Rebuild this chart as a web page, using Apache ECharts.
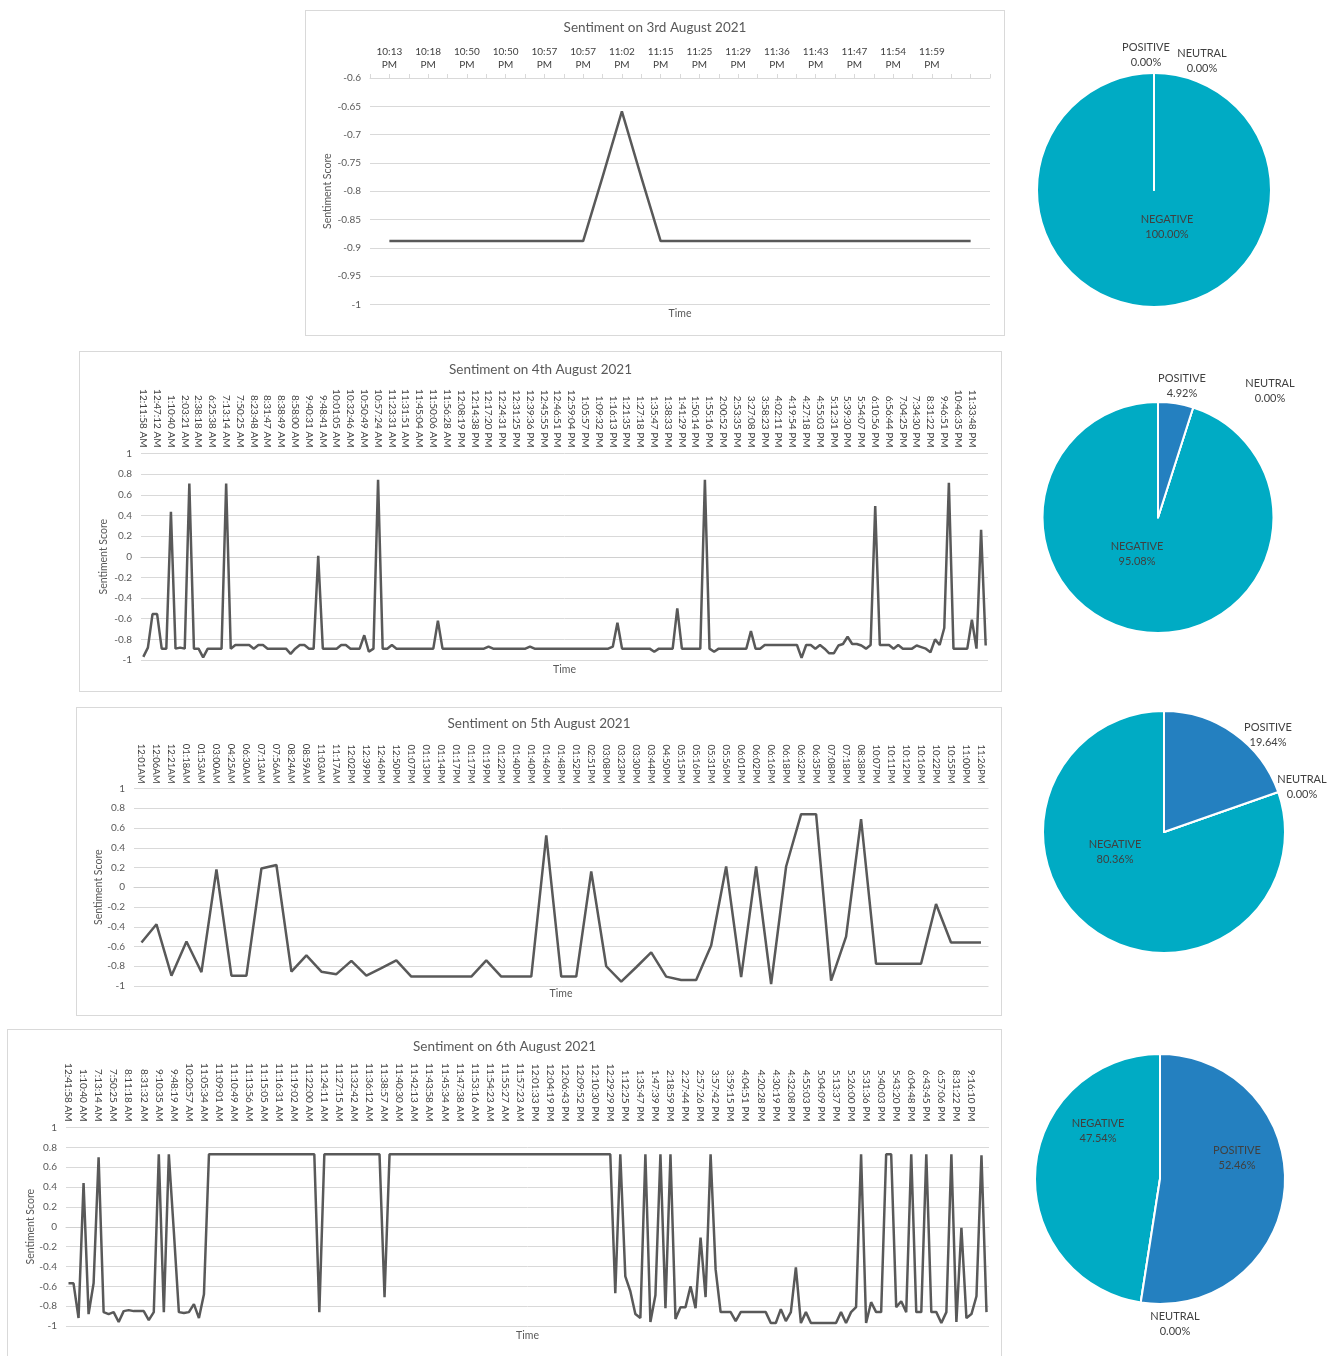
<!DOCTYPE html>
<html>
<head>
<meta charset="utf-8">
<title>Sentiment, 3rd to 6th August 2021</title>
<script src="https://cdn.jsdelivr.net/npm/echarts@6/dist/echarts.min.js"></script>
<style>
  html, body { margin: 0; padding: 0; background: #fff; width: 1339px; height: 1356px; overflow: hidden; }
  .panel { position: absolute; box-sizing: border-box; border: 1px solid #d9d9d9; background: #fff; }
  .pies { position: absolute; }
</style>
</head>
<body>
<div id="day3" class="panel" style="left:305px;top:10px;width:700px;height:326px"></div>
<div id="day4" class="panel" style="left:79px;top:351px;width:923px;height:341px"></div>
<div id="day5" class="panel" style="left:76px;top:707px;width:926px;height:309px"></div>
<div id="day6" class="panel" style="left:7px;top:1029px;width:995px;height:340px"></div>
<div id="shares" class="pies" style="left:1005px;top:0;width:334px;height:1356px"></div>
<script>
// ---- 3rd August ----
const day3Labels = ['10:13 PM', '10:18 PM', '10:50 PM', '10:50 PM', '10:57 PM', '10:57 PM', '11:02 PM', '11:15 PM',
  '11:25 PM', '11:29 PM', '11:36 PM', '11:43 PM', '11:47 PM', '11:54 PM', '11:59 PM'];
const day3Scores = [-0.888, -0.888, -0.888, -0.888, -0.888, -0.888, -0.888, -0.888, -0.888, -0.888, -0.888,
  -0.775, -0.659, -0.775,
  -0.888, -0.888, -0.888, -0.888, -0.888, -0.888, -0.888, -0.888, -0.888, -0.888, -0.888, -0.888, -0.888, -0.888,
  -0.888, -0.888, -0.888];

// ---- 4th August ----
const day4Labels = ['12:11:58 AM', '12:47:12 AM', '1:10:40 AM', '2:03:21 AM', '2:38:18 AM', '6:25:38 AM', '7:13:14 AM',
  '7:50:25 AM', '8:23:48 AM', '8:31:47 AM', '8:38:49 AM', '8:58:00 AM', '9:40:31 AM', '9:48:41 AM', '10:01:05 AM',
  '10:32:46 AM', '10:50:49 AM', '10:57:24 AM', '11:23:31 AM', '11:31:51 AM', '11:45:04 AM', '11:50:06 AM',
  '11:56:28 AM', '12:08:19 PM', '12:14:38 PM', '12:17:20 PM', '12:24:31 PM', '12:31:25 PM', '12:39:36 PM',
  '12:45:55 PM', '12:46:51 PM', '12:59:04 PM', '1:05:57 PM', '1:09:32 PM', '1:16:13 PM', '1:21:35 PM', '1:27:18 PM',
  '1:35:47 PM', '1:38:33 PM', '1:41:29 PM', '1:50:14 PM', '1:55:16 PM', '2:00:52 PM', '2:53:35 PM', '3:27:08 PM',
  '3:58:23 PM', '4:02:11 PM', '4:19:54 PM', '4:27:18 PM', '4:55:03 PM', '5:12:31 PM', '5:39:30 PM', '5:54:07 PM',
  '6:10:56 PM', '6:56:44 PM', '7:04:25 PM', '7:34:30 PM', '8:31:22 PM', '9:46:51 PM', '10:46:35 PM', '11:33:48 PM'];
const day4Scores = [
  -0.97, -0.88, -0.555, -0.555, -0.89, -0.89, 0.435, -0.89, -0.88, -0.89,
  0.71, -0.89, -0.89, -0.975, -0.89, -0.89, -0.89, -0.89, 0.71, -0.89,
  -0.855, -0.855, -0.855, -0.855, -0.89, -0.855, -0.855, -0.89, -0.89, -0.89,
  -0.89, -0.89, -0.94, -0.89, -0.855, -0.855, -0.89, -0.89, 0.01, -0.89,
  -0.89, -0.89, -0.89, -0.855, -0.855, -0.89, -0.89, -0.89, -0.76, -0.92,
  -0.89, 0.745, -0.89, -0.89, -0.855, -0.89, -0.89, -0.89, -0.89, -0.89,
  -0.89, -0.89, -0.89, -0.89, -0.62, -0.89, -0.89, -0.89, -0.89, -0.89,
  -0.89, -0.89, -0.89, -0.89, -0.89, -0.87, -0.89, -0.89, -0.89, -0.89,
  -0.89, -0.89, -0.89, -0.89, -0.87, -0.89, -0.89, -0.89, -0.89, -0.89,
  -0.89, -0.89, -0.89, -0.89, -0.89, -0.89, -0.89, -0.89, -0.89, -0.89,
  -0.89, -0.89, -0.87, -0.64, -0.89, -0.89, -0.89, -0.89, -0.89, -0.89,
  -0.89, -0.92, -0.89, -0.89, -0.89, -0.89, -0.5, -0.89, -0.89, -0.89,
  -0.89, -0.89, 0.745, -0.89, -0.92, -0.89, -0.89, -0.89, -0.89, -0.89,
  -0.89, -0.89, -0.72, -0.89, -0.89, -0.855, -0.855, -0.855, -0.855, -0.855,
  -0.855, -0.855, -0.855, -0.98, -0.855, -0.855, -0.89, -0.855, -0.89, -0.935,
  -0.935, -0.86, -0.845, -0.775, -0.845, -0.845, -0.86, -0.89, -0.855, 0.49,
  -0.855, -0.855, -0.855, -0.89, -0.855, -0.89, -0.89, -0.89, -0.86, -0.875,
  -0.89, -0.925, -0.8, -0.855, -0.69, 0.716, -0.89, -0.89, -0.89, -0.89,
  -0.61, -0.89, 0.26, -0.86];

// ---- 5th August ----
const day5Labels = ['12:01AM', '12:06AM', '12:21AM', '01:18AM', '01:53AM', '03:00AM', '04:25AM', '06:30AM', '07:13AM',
  '07:56AM', '08:24AM', '08:59AM', '11:03AM', '11:17AM', '12:02PM', '12:39PM', '12:46PM', '12:50PM', '01:07PM',
  '01:13PM', '01:14PM', '01:17PM', '01:17PM', '01:19PM', '01:22PM', '01:40PM', '01:40PM', '01:46PM', '01:48PM',
  '01:52PM', '02:51PM', '03:08PM', '03:23PM', '03:30PM', '03:44PM', '04:50PM', '05:15PM', '05:16PM', '05:31PM',
  '05:56PM', '06:01PM', '06:02PM', '06:16PM', '06:18PM', '06:32PM', '06:35PM', '07:08PM', '07:18PM', '08:38PM',
  '10:07PM', '10:11PM', '10:12PM', '10:16PM', '10:22PM', '10:55PM', '11:00PM', '11:26PM'];
const day5Scores = [
  -0.56, -0.375, -0.895, -0.55, -0.86, 0.18, -0.895, -0.895, 0.19, 0.225,
  -0.855, -0.69, -0.855, -0.88, -0.745, -0.895, -0.82, -0.74, -0.905, -0.905,
  -0.905, -0.905, -0.905, -0.74, -0.905, -0.905, -0.905, 0.525, -0.905, -0.905,
  0.16, -0.8, -0.955, -0.81, -0.66, -0.905, -0.94, -0.94, -0.59, 0.21,
  -0.91, 0.21, -0.98, 0.21, 0.74, 0.74, -0.945, -0.5, 0.69, -0.775,
  -0.775, -0.775, -0.775, -0.17, -0.56, -0.56, -0.56];

// ---- 6th August ----
const day6Labels = ['12:41:58 AM', '1:10:40 AM', '7:13:14 AM', '7:50:25 AM', '8:11:18 AM', '8:31:32 AM', '9:10:35 AM',
  '9:48:19 AM', '10:20:57 AM', '11:05:34 AM', '11:09:01 AM', '11:10:49 AM', '11:13:56 AM', '11:15:05 AM',
  '11:16:31 AM', '11:19:02 AM', '11:22:00 AM', '11:24:11 AM', '11:27:15 AM', '11:32:42 AM', '11:36:12 AM',
  '11:38:57 AM', '11:40:30 AM', '11:42:13 AM', '11:43:58 AM', '11:45:34 AM', '11:47:38 AM', '11:53:16 AM',
  '11:54:23 AM', '11:55:27 AM', '11:57:23 AM', '12:01:33 PM', '12:04:19 PM', '12:06:43 PM', '12:09:52 PM',
  '12:10:30 PM', '12:29:29 PM', '1:12:25 PM', '1:35:47 PM', '1:47:39 PM', '2:18:59 PM', '2:27:44 PM', '2:57:26 PM',
  '3:57:42 PM', '3:59:15 PM', '4:04:51 PM', '4:20:28 PM', '4:30:19 PM', '4:32:08 PM', '4:55:03 PM', '5:04:09 PM',
  '5:13:37 PM', '5:26:00 PM', '5:31:36 PM', '5:40:03 PM', '5:43:20 PM', '6:04:48 PM', '6:43:45 PM', '6:57:06 PM',
  '8:31:22 PM', '9:16:10 PM'];
const day6Scores = [
  -0.57, -0.57, -0.92, 0.44, -0.88, -0.57, 0.7, -0.86, -0.88, -0.86,
  -0.96, -0.85, -0.84, -0.85, -0.85, -0.85, -0.94, -0.86, 0.73, -0.86,
  0.73, -0.05, -0.86, -0.87, -0.86, -0.78, -0.92, -0.68, 0.73, 0.73,
  0.73, 0.73, 0.73, 0.73, 0.73, 0.73, 0.73, 0.73, 0.73, 0.73,
  0.73, 0.73, 0.73, 0.73, 0.73, 0.73, 0.73, 0.73, 0.73, 0.73,
  -0.86, 0.73, 0.73, 0.73, 0.73, 0.73, 0.73, 0.73, 0.73, 0.73,
  0.73, 0.73, 0.73, -0.71, 0.73, 0.73, 0.73, 0.73, 0.73, 0.73,
  0.73, 0.73, 0.73, 0.73, 0.73, 0.73, 0.73, 0.73, 0.73, 0.73,
  0.73, 0.73, 0.73, 0.73, 0.73, 0.73, 0.73, 0.73, 0.73, 0.73,
  0.73, 0.73, 0.73, 0.73, 0.73, 0.73, 0.73, 0.73, 0.73, 0.73,
  0.73, 0.73, 0.73, 0.73, 0.73, 0.73, 0.73, 0.73, 0.73, -0.67,
  0.73, -0.5, -0.65, -0.88, -0.92, 0.73, -0.96, -0.69, 0.73, -0.82,
  0.73, -0.93, -0.81, -0.81, -0.6, -0.82, -0.11, -0.71, 0.73, -0.43,
  -0.86, -0.86, -0.86, -0.95, -0.86, -0.86, -0.86, -0.86, -0.86, -0.86,
  -0.97, -0.97, -0.83, -0.95, -0.86, -0.41, -0.97, -0.86, -0.97, -0.97,
  -0.97, -0.97, -0.97, -0.97, -0.86, -0.97, -0.86, -0.81, 0.73, -0.97,
  -0.76, -0.86, -0.86, 0.73, 0.73, -0.81, -0.75, -0.86, 0.73, -0.86,
  -0.86, 0.73, -0.86, -0.86, -0.97, -0.86, 0.73, -0.96, -0.01, -0.92,
  -0.88, -0.7, 0.72, -0.86];

// ---- share of tweets by sentiment (%), ordered NEGATIVE, NEUTRAL, POSITIVE ----
const shareNames = ['NEGATIVE', 'NEUTRAL', 'POSITIVE'];
const day3Share = [100.00, 0.00, 0.00];
const day4Share = [95.08, 0.00, 4.92];
const day5Share = [80.36, 0.00, 19.64];
const day6Share = [47.54, 0.00, 52.46];

const FONT = 'Lato, "Open Sans", sans-serif';
const GRID = '#d9d9d9';
const INK = '#595959';
const LINE = { color: '#595959', width: 2.5 };

function caption(text, x, y, size) {
  return { type: 'text', x: x, y: y, silent: true,
    style: { text: text, fill: INK, font: size + 'px ' + FONT, align: 'center', verticalAlign: 'middle' } };
}

function titleOf(text, top) {
  return { text: text, left: 'center', top: top, padding: 0,
    textStyle: { fontFamily: FONT, fontSize: 13.5, fontWeight: 'normal', color: INK } };
}

function scoreAxis(opts) {
  return Object.assign({
    type: 'value', name: 'Sentiment Score', nameLocation: 'middle', nameMoveOverlap: false,
    nameTextStyle: { fontFamily: FONT, fontSize: 10.5, color: INK },
    axisLine: { show: false }, axisTick: { show: false },
    axisLabel: { fontFamily: FONT, fontSize: 10, color: INK, margin: 9 },
    splitLine: { lineStyle: { color: GRID, width: 1 } }
  }, opts);
}

// ---- 3rd August: one label every second reading along the top axis ----
const c3 = echarts.init(document.getElementById('day3'));
c3.setOption({
  animation: false,
  title: titleOf('Sentiment on 3rd August 2021', 10),
  grid: { left: 64, top: 67, width: 620, height: 226.5 },
  xAxis: {
    type: 'value', position: 'top', min: -1, max: day3Scores.length, interval: 1,
    axisLine: { lineStyle: { color: GRID } },
    axisTick: { length: 4, lineStyle: { color: GRID } },
    splitLine: { show: false },
    axisLabel: {
      fontFamily: FONT, fontSize: 10, color: '#404040', margin: 7, lineHeight: 13,
      formatter: function (v) {
        const k = v / 2;
        return (v >= 0 && v % 2 === 0 && k < day3Labels.length) ? day3Labels[k].replace(' ', '\n') : '';
      }
    }
  },
  yAxis: scoreAxis({ min: -1, max: -0.6, interval: 0.05, nameGap: 37 }),
  graphic: [caption('Time', 374, 303, 10.5)],
  series: [{ type: 'line', data: day3Scores.map(function (v, i) { return [i, v]; }),
    symbol: 'none', lineStyle: LINE }]
});

// ---- 4th to 6th August: labels along the top, category axis crossing at zero ----
function dayChart(id, cfg) {
  const chart = echarts.init(document.getElementById(id));
  const cats = cfg.scores.map(function (_, i) { return i; });
  const step = cfg.labelStep;
  const zeroAxis = function (inside) {
    return {
      type: 'category', position: 'bottom', data: cats, boundaryGap: true,
      axisLine: { show: !inside, onZero: true, lineStyle: { color: '#d0d0d0' } },
      axisTick: { interval: 0, length: 3, inside: inside, lineStyle: { color: '#c8c8c8' } },
      axisLabel: { show: false }, splitLine: { show: false }
    };
  };
  chart.setOption({
    animation: false,
    title: titleOf(cfg.title, cfg.titleTop),
    grid: cfg.grid,
    xAxis: [{
      type: 'category', position: 'top', data: cats, boundaryGap: true,
      axisLine: { show: false, onZero: false }, axisTick: { show: false },
      axisLabel: {
        interval: step - 1, rotate: 90, margin: cfg.labelMargin,
        fontFamily: FONT, fontSize: cfg.labelSize, color: '#404040',
        formatter: function (v, i) { return i % step === 0 ? cfg.labels[i / step] : ''; }
      }
    }, zeroAxis(false), zeroAxis(true)],
    yAxis: scoreAxis({ min: -1, max: 1, interval: 0.2, nameGap: cfg.nameGap }),
    graphic: [caption('Time', cfg.timeAt[0], cfg.timeAt[1], 10.5)],
    series: [{ type: 'line', data: cfg.scores, xAxisIndex: 0, symbol: 'none', lineStyle: LINE }]
  });
  return chart;
}

dayChart('day4', {
  title: 'Sentiment on 4th August 2021', titleTop: 11, labels: day4Labels, scores: day4Scores, labelStep: 3,
  labelSize: 10, labelMargin: 6, nameGap: 32,
  grid: { left: 61, top: 101.5, width: 847, height: 206.5 }, timeAt: [484.5, 318]
});
dayChart('day5', {
  title: 'Sentiment on 5th August 2021', titleTop: 9, labels: day5Labels, scores: day5Scores, labelStep: 1,
  labelSize: 9.5, labelMargin: 5, nameGap: 30,
  grid: { left: 57, top: 80.5, width: 854.5, height: 197.5 }, timeAt: [484, 286]
});
dayChart('day6', {
  title: 'Sentiment on 6th August 2021', titleTop: 10, labels: day6Labels, scores: day6Scores, labelStep: 3,
  labelSize: 10, labelMargin: 6, nameGap: 30,
  grid: { left: 58, top: 97.5, width: 923, height: 198.5 }, timeAt: [519.5, 306]
});

// ---- share pies: counter-clockwise from twelve o'clock ----
const SHARE_COLORS = ['#00abc4', '#a5a5a5', '#2480c0'];
const pies = [
  { share: day3Share, center: [149, 190], r: 117, tags: [[13, 37], [48, -129], [-8, -135]] },
  { share: day4Share, center: [153, 517.5], r: 115.5, tags: [[-21, 36], [112, -127], [24, -132]] },
  { share: day5Share, center: [159, 832], r: 121, tags: [[-49, 20], [138, -45], [104, -97]] },
  { share: day6Share, center: [155, 1179], r: 125, tags: [[-62, -48], [15, 145], [77, -21]] }
];
const shares = echarts.init(document.getElementById('shares'));
shares.setOption({
  animation: false,
  series: pies.map(function (p) {
    return {
      type: 'pie', center: p.center, radius: p.r, startAngle: 90, clockwise: false,
      avoidLabelOverlap: false, minShowLabelAngle: 0,
      itemStyle: { borderColor: '#fff', borderWidth: 2 },
      label: {
        position: 'inside', fontFamily: FONT, fontSize: 11, lineHeight: 15, color: '#404040',
        formatter: function (d) { return d.name + '\n' + d.value.toFixed(2) + '%'; }
      },
      labelLine: { show: false },
      labelLayout: function (d) {
        const t = p.tags[d.dataIndex];
        return { x: p.center[0] + t[0], y: p.center[1] + t[1], align: 'center', verticalAlign: 'middle' };
      },
      emphasis: { disabled: true },
      data: shareNames.map(function (n, i) {
        return { name: n, value: p.share[i], itemStyle: { color: SHARE_COLORS[i] } };
      })
    };
  })
});
</script>
</body>
</html>
